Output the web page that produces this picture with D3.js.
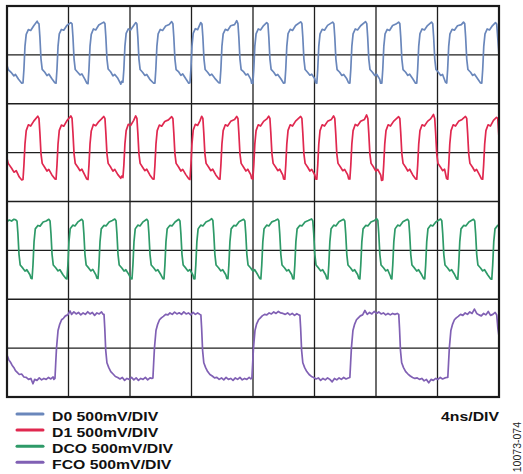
<!DOCTYPE html>
<html>
<head>
<meta charset="utf-8">
<script src="https://cdn.jsdelivr.net/npm/d3@7"></script>
<style>
  html, body { margin: 0; padding: 0; background: #fff; }
  svg { display: block; font-family: "Liberation Sans", Arial, Helvetica, sans-serif; }
</style>
</head>
<body>
<svg id="scope" width="523" height="474"></svg>
<script>
// ---- scope settings / graticule ----
const nsPerDiv = 4;
const mvPerDiv = 500;
const timeDivs = [0, 4, 8, 12, 16, 20, 24, 28, 32];     // ns
const voltDivs = [-4, -3, -2, -1, 0, 1, 2, 3, 4];      // divisions
const channels = ["D0", "D1", "DCO", "FCO"];
const channelOffset = [3, 1, -1, -3];                  // trace zero, in divisions
const figureId = "10073-074";

// ---- traces: [time ns, mV] ----
const d0Trace = [
  [0,-110],[0.08,-150],[0.3,-185],[0.45,-215],[0.55,-200],[0.75,-250],[0.96,-290],
  [1.04,-288],[1.10,-150],[1.17,90],[1.25,210],[1.39,258],[1.54,250],[1.74,298],[1.96,345],[2.00,330],[2.08,318],[2.14,180],[2.21,-40],[2.29,-148],[2.46,-178],[2.60,-212],[2.72,-196],[2.92,-245],[3.11,-285],
  [3.19,-290],[3.25,-150],[3.32,90],[3.40,215],[3.54,260],[3.69,252],[3.89,300],[4.15,330],[4.23,318],[4.29,180],[4.36,-40],[4.44,-150],[4.61,-180],[4.75,-205],[4.87,-195],[5.07,-250],[5.19,-290],
  [5.27,-295],[5.33,-150],[5.40,90],[5.48,210],[5.62,265],[5.77,255],[5.97,305],[6.29,335],[6.37,320],[6.43,180],[6.50,-40],[6.58,-145],[6.75,-175],[6.89,-215],[7.01,-200],[7.21,-240],[7.40,-300],[7.46,-270],
  [7.54,-280],[7.60,-150],[7.67,90],[7.75,220],[7.89,265],[8.04,255],[8.24,300],[8.38,330],[8.45,315],[8.51,180],[8.58,-40],[8.66,-150],[8.83,-180],[8.97,-210],[9.09,-200],[9.29,-250],[9.54,-290],
  [9.62,-290],[9.68,-150],[9.75,90],[9.83,215],[9.97,260],[10.12,250],[10.32,295],[10.55,310],[10.71,340],[10.79,320],[10.85,180],[10.92,-40],[11.00,-150],[11.17,-175],[11.31,-210],[11.43,-195],[11.63,-245],[11.82,-290],
  [11.90,-285],[11.96,-150],[12.03,90],[12.11,220],[12.25,268],[12.40,258],[12.60,330],[12.68,315],[12.74,180],[12.81,-40],[12.89,-150],[13.06,-180],[13.20,-210],[13.32,-198],[13.52,-240],[13.77,-285],
  [13.85,-288],[13.91,-150],[13.98,90],[14.06,215],[14.20,262],[14.35,250],[14.55,298],[14.80,310],[14.94,350],[15.02,320],[15.08,180],[15.15,-40],[15.23,-150],[15.40,-175],[15.54,-205],[15.66,-195],[15.86,-250],[15.91,-290],
  [15.99,-292],[16.05,-150],[16.12,90],[16.20,215],[16.34,265],[16.49,255],[16.69,300],[16.89,330],[16.97,318],[17.03,180],[17.10,-40],[17.18,-148],[17.35,-178],[17.49,-210],[17.61,-200],[17.81,-245],[17.99,-290],
  [18.07,-288],[18.13,-150],[18.20,90],[18.28,218],[18.42,262],[18.57,250],[18.77,300],[19.10,338],[19.18,320],[19.24,180],[19.31,-40],[19.39,-150],[19.56,-180],[19.70,-208],[19.82,-198],[20.02,-245],[20.07,-285],
  [20.15,-290],[20.21,-150],[20.28,90],[20.36,215],[20.50,262],[20.65,252],[20.85,302],[21.18,335],[21.26,318],[21.32,180],[21.39,-40],[21.47,-150],[21.64,-178],[21.78,-210],[21.90,-200],[22.10,-245],[22.22,-288],
  [22.30,-290],[22.36,-150],[22.43,90],[22.51,215],[22.65,265],[22.80,255],[23.00,298],[23.32,340],[23.40,320],[23.46,180],[23.53,-40],[23.61,-150],[23.78,-180],[23.92,-212],[24.04,-198],[24.24,-248],[24.30,-290],
  [24.38,-290],[24.44,-150],[24.51,90],[24.59,215],[24.73,260],[24.88,250],[25.08,300],[25.30,315],[25.47,335],[25.55,320],[25.61,180],[25.68,-40],[25.76,-150],[25.93,-178],[26.07,-210],[26.19,-198],[26.39,-245],[26.57,-290],
  [26.65,-290],[26.71,-150],[26.78,90],[26.86,218],[27.00,265],[27.15,255],[27.35,300],[27.61,335],[27.69,318],[27.75,180],[27.82,-40],[27.90,-150],[28.07,-180],[28.21,-210],[28.33,-200],[28.52,-280],
  [28.60,-288],[28.66,-150],[28.73,90],[28.81,215],[28.95,262],[29.10,252],[29.30,298],[29.55,310],[29.69,335],[29.77,320],[29.83,180],[29.90,-40],[29.98,-150],[30.15,-178],[30.29,-210],[30.41,-198],[30.61,-245],[30.80,-288],
  [30.88,-290],[30.94,-150],[31.01,90],[31.09,215],[31.23,265],[31.38,255],[31.58,300],[31.77,330],[31.85,315],[31.93,150],[32.00,0]
];

const d1Trace = [
  [0,-60],[0.08,-110],[0.3,-160],[0.45,-200],[0.6,-185],[0.8,-250],[0.96,-280],
  [1.04,-275],[1.10,-130],[1.17,90],[1.25,225],[1.39,285],[1.54,272],[1.74,322],[2.00,372],[2.08,350],[2.14,200],[2.21,-10],[2.29,-110],[2.46,-152],[2.60,-188],[2.72,-172],[2.92,-228],[3.11,-268],
  [3.19,-272],[3.25,-130],[3.32,90],[3.40,228],[3.54,282],[3.69,270],[3.89,325],[4.15,375],[4.23,352],[4.29,200],[4.36,-10],[4.44,-112],[4.61,-150],[4.75,-185],[4.87,-170],[5.07,-232],[5.19,-270],
  [5.27,-275],[5.33,-130],[5.40,90],[5.48,222],[5.62,288],[5.77,275],[5.97,318],[6.15,345],[6.29,370],[6.37,350],[6.43,200],[6.50,-10],[6.58,-110],[6.75,-150],[6.89,-190],[7.01,-172],[7.21,-225],[7.40,-262],[7.46,-240],
  [7.54,-255],[7.60,-130],[7.67,90],[7.75,225],[7.89,290],[8.04,278],[8.24,330],[8.37,375],[8.45,350],[8.51,200],[8.58,-10],[8.66,-110],[8.83,-152],[8.97,-185],[9.09,-170],[9.29,-228],[9.48,-270],
  [9.56,-272],[9.62,-130],[9.69,90],[9.77,225],[9.91,282],[10.06,270],[10.26,318],[10.50,335],[10.71,368],[10.79,350],[10.85,200],[10.92,-10],[11.00,-110],[11.17,-150],[11.31,-188],[11.43,-172],[11.63,-225],[11.82,-268],
  [11.90,-275],[11.96,-130],[12.03,90],[12.11,228],[12.25,290],[12.40,278],[12.55,325],[12.66,372],[12.74,350],[12.80,200],[12.87,-10],[12.95,-110],[13.12,-150],[13.26,-185],[13.38,-170],[13.58,-228],[13.77,-268],
  [13.85,-272],[13.91,-130],[13.98,90],[14.06,225],[14.20,285],[14.35,272],[14.55,320],[14.80,338],[14.94,370],[15.02,350],[15.08,200],[15.15,-10],[15.23,-110],[15.40,-152],[15.54,-188],[15.66,-170],[15.86,-228],[15.91,-265],
  [15.99,-270],[16.05,-130],[16.12,90],[16.20,225],[16.34,285],[16.49,272],[16.69,320],[16.90,345],[17.02,372],[17.10,350],[17.16,200],[17.23,-10],[17.31,-110],[17.48,-150],[17.62,-185],[17.74,-170],[17.94,-230],[17.99,-268],
  [18.07,-272],[18.13,-130],[18.20,90],[18.28,228],[18.42,285],[18.57,272],[18.77,322],[19.10,370],[19.18,350],[19.24,200],[19.31,-10],[19.39,-110],[19.56,-150],[19.70,-188],[19.82,-172],[20.02,-228],[20.07,-268],
  [20.15,-272],[20.21,-130],[20.28,90],[20.36,225],[20.50,285],[20.65,272],[20.85,320],[21.10,340],[21.24,375],[21.32,350],[21.38,200],[21.45,-10],[21.53,-110],[21.70,-150],[21.84,-185],[21.96,-172],[22.16,-228],[22.22,-268],
  [22.30,-270],[22.36,-130],[22.43,90],[22.51,225],[22.65,288],[22.80,275],[23.00,320],[23.25,340],[23.39,385],[23.47,350],[23.53,200],[23.60,-10],[23.68,-110],[23.85,-150],[23.99,-190],[24.11,-172],[24.31,-230],[24.36,-285],
  [24.44,-280],[24.50,-130],[24.57,90],[24.65,225],[24.79,285],[24.94,272],[25.14,320],[25.47,368],[25.55,350],[25.61,200],[25.68,-10],[25.76,-110],[25.93,-150],[26.07,-188],[26.19,-170],[26.39,-228],[26.57,-268],
  [26.65,-272],[26.71,-130],[26.78,90],[26.86,225],[27.00,285],[27.15,272],[27.35,320],[27.55,345],[27.74,390],[27.82,350],[27.88,200],[27.95,-10],[28.03,-110],[28.20,-150],[28.34,-185],[28.46,-170],[28.59,-265],
  [28.67,-272],[28.73,-130],[28.80,90],[28.88,225],[29.02,285],[29.17,272],[29.37,320],[29.60,340],[29.82,370],[29.90,350],[29.96,200],[30.03,-10],[30.11,-110],[30.28,-150],[30.42,-188],[30.54,-172],[30.74,-230],[30.86,-268],
  [30.94,-272],[31.00,-130],[31.07,90],[31.15,225],[31.29,285],[31.44,272],[31.64,330],[31.84,360],[31.92,350],[32.00,150]
];

const dcoTrace = [
  [0,295],[0.15,310],[0.3,300],[0.45,318],[0.57,312],
  [0.65,300],[0.71,170],[0.78,-40],[0.86,-150],[1.03,-182],[1.17,-212],[1.29,-198],[1.49,-250],[1.56,-285],
  [1.63,-290],[1.69,-150],[1.76,90],[1.84,220],[2.01,255],[2.15,248],[2.35,290],[2.55,300],[2.72,318],
  [2.80,300],[2.86,170],[2.93,-40],[3.01,-150],[3.18,-180],[3.32,-210],[3.44,-198],[3.64,-250],[3.83,-288],
  [3.90,-292],[3.96,-150],[4.03,90],[4.11,222],[4.28,258],[4.42,250],[4.62,292],[4.86,318],
  [4.94,300],[5.00,170],[5.07,-40],[5.15,-150],[5.32,-182],[5.46,-210],[5.58,-195],[5.78,-250],[5.85,-285],
  [5.92,-288],[5.98,-150],[6.05,90],[6.13,220],[6.30,255],[6.44,250],[6.64,290],[6.85,305],[7.01,320],
  [7.09,302],[7.15,170],[7.22,-40],[7.30,-150],[7.47,-180],[7.61,-212],[7.73,-198],[7.93,-248],[8.06,-290],
  [8.13,-292],[8.19,-150],[8.26,90],[8.34,220],[8.51,258],[8.65,250],[8.85,292],[9.09,318],
  [9.17,300],[9.23,170],[9.30,-40],[9.38,-150],[9.55,-180],[9.69,-210],[9.81,-198],[10.01,-250],[10.14,-290],
  [10.21,-292],[10.27,-150],[10.34,90],[10.42,222],[10.59,255],[10.73,250],[10.93,290],[11.17,318],
  [11.25,300],[11.31,170],[11.38,-40],[11.46,-150],[11.63,-182],[11.77,-212],[11.89,-196],[12.09,-252],[12.15,-290],
  [12.22,-292],[12.28,-150],[12.35,90],[12.43,220],[12.60,258],[12.74,250],[12.94,290],[13.15,305],[13.31,325],
  [13.39,305],[13.45,170],[13.52,-40],[13.60,-150],[13.77,-180],[13.91,-210],[14.03,-198],[14.23,-250],[14.30,-288],
  [14.37,-290],[14.43,-150],[14.50,90],[14.58,220],[14.75,255],[14.89,250],[15.09,292],[15.39,318],
  [15.47,300],[15.53,170],[15.60,-40],[15.68,-150],[15.85,-180],[15.99,-212],[16.11,-198],[16.31,-250],[16.44,-288],
  [16.51,-292],[16.57,-150],[16.64,90],[16.72,222],[16.89,258],[17.03,250],[17.23,292],[17.45,305],[17.60,320],
  [17.68,302],[17.74,170],[17.81,-40],[17.89,-150],[18.06,-180],[18.20,-210],[18.32,-198],[18.52,-250],[18.59,-290],
  [18.66,-292],[18.72,-150],[18.79,90],[18.87,220],[19.04,255],[19.18,250],[19.38,290],[19.60,305],[19.81,322],
  [19.89,302],[19.95,170],[20.02,-40],[20.10,-150],[20.27,-182],[20.41,-210],[20.53,-198],[20.73,-252],[20.80,-290],
  [20.87,-292],[20.93,-150],[21.00,90],[21.08,222],[21.25,258],[21.39,250],[21.59,292],[21.89,318],
  [21.97,300],[22.03,170],[22.10,-40],[22.18,-150],[22.35,-180],[22.49,-212],[22.61,-198],[22.81,-250],[22.88,-288],
  [22.95,-292],[23.01,-150],[23.08,90],[23.16,220],[23.33,255],[23.47,250],[23.67,290],[23.90,305],[24.04,325],
  [24.12,305],[24.18,170],[24.25,-40],[24.33,-150],[24.50,-180],[24.64,-210],[24.76,-198],[24.94,-265],[24.98,-288],
  [25.03,-292],[25.09,-150],[25.16,90],[25.24,220],[25.41,258],[25.55,250],[25.75,292],[26.05,318],
  [26.13,300],[26.19,170],[26.26,-40],[26.34,-150],[26.51,-182],[26.65,-212],[26.77,-198],[26.97,-250],[27.10,-290],
  [27.17,-292],[27.23,-150],[27.30,90],[27.38,222],[27.55,258],[27.69,250],[27.89,290],[28.20,320],
  [28.28,302],[28.34,170],[28.41,-40],[28.49,-150],[28.66,-180],[28.80,-210],[28.92,-198],[29.12,-250],[29.25,-292],
  [29.32,-295],[29.38,-150],[29.45,90],[29.53,220],[29.70,255],[29.84,250],[30.04,290],[30.34,318],
  [30.42,300],[30.48,170],[30.55,-40],[30.63,-150],[30.80,-180],[30.94,-210],[31.06,-198],[31.26,-250],[31.46,-292],
  [31.53,-295],[31.59,-150],[31.66,90],[31.74,220],[31.91,255],[32.00,262]
];

const fcoTrace = [
  [0,-70],[0.12,-120],[0.25,-150],[0.33,-175],[0.45,-200],[0.55,-230],[0.65,-245],[0.8,-270],[0.95,-265],[1.1,-295],[1.25,-300],[1.4,-320],[1.55,-310],[1.69,-365],[1.8,-320],[1.95,-330],[2.1,-305],[2.25,-325],[2.4,-310],[2.55,-320],[2.7,-300],[2.85,-315],[3.0,-295],[3.05,-320],
  [3.12,-310],[3.17,-150],[3.22,0],[3.32,180],[3.42,240],[3.55,290],[3.67,305],[3.80,330],[3.95,340],[4.1,380],[4.2,345],[4.35,370],[4.5,350],[4.65,365],[4.8,340],[4.95,360],[5.1,345],[5.25,372],[5.4,350],[5.55,365],[5.7,335],[5.85,360],[6.0,350],[6.15,370],[6.25,345],
  [6.31,345],[6.36,200],[6.42,-20],[6.50,-150],[6.62,-200],[6.75,-240],[6.9,-265],[7.05,-290],[7.2,-300],[7.35,-315],[7.5,-300],[7.65,-330],[7.8,-310],[7.95,-320],[8.1,-300],[8.25,-325],[8.4,-305],[8.55,-330],[8.7,-310],[8.85,-320],[9.0,-300],[9.15,-325],[9.3,-305],[9.42,-310],
  [9.49,-305],[9.54,-150],[9.59,0],[9.69,180],[9.79,240],[9.92,290],[10.04,310],[10.17,325],[10.32,345],[10.47,340],[10.6,360],[10.75,345],[10.9,368],[11.05,350],[11.2,362],[11.35,345],[11.5,370],[11.65,350],[11.8,360],[11.95,340],[12.1,365],[12.25,345],[12.4,360],[12.55,345],
  [12.61,340],[12.66,200],[12.72,-20],[12.80,-150],[12.92,-200],[13.05,-240],[13.2,-270],[13.35,-285],[13.5,-305],[13.65,-300],[13.8,-320],[13.95,-305],[14.1,-325],[14.25,-300],[14.4,-320],[14.55,-310],[14.7,-330],[14.85,-305],[15.0,-320],[15.15,-300],[15.3,-325],[15.45,-310],[15.6,-320],[15.75,-300],[15.86,-315],
  [15.93,-305],[15.98,-150],[16.03,0],[16.13,180],[16.23,245],[16.36,290],[16.48,310],[16.6,330],[16.75,345],[16.9,340],[17.05,360],[17.2,350],[17.35,370],[17.5,355],[17.65,375],[17.8,360],[17.95,355],[18.1,345],[18.25,360],[18.4,340],[18.55,355],[18.7,335],[18.85,352],[18.98,340],
  [19.05,335],[19.10,200],[19.16,-20],[19.24,-150],[19.36,-200],[19.5,-240],[19.65,-270],[19.8,-290],[19.95,-300],[20.1,-315],[20.25,-305],[20.4,-330],[20.55,-310],[20.7,-325],[20.85,-305],[21.0,-320],[21.15,-345],[21.3,-310],[21.45,-325],[21.6,-305],[21.75,-320],[21.9,-300],[22.05,-315],[22.2,-305],
  [22.30,-300],[22.35,-150],[22.40,0],[22.50,180],[22.60,240],[22.73,290],[22.85,310],[22.98,330],[23.13,340],[23.28,385],[23.43,345],[23.58,365],[23.73,350],[23.88,375],[24.03,355],[24.18,370],[24.33,350],[24.48,360],[24.63,340],[24.78,355],[24.93,340],[25.08,355],[25.23,345],[25.38,355],
  [25.48,345],[25.53,200],[25.59,-20],[25.67,-150],[25.79,-200],[25.93,-240],[26.08,-265],[26.23,-285],[26.38,-300],[26.53,-310],[26.68,-305],[26.83,-320],[26.98,-310],[27.13,-335],[27.28,-320],[27.43,-355],[27.58,-320],[27.73,-330],[27.88,-310],[28.03,-320],[28.18,-300],[28.33,-315],[28.48,-305],[28.6,-300],
  [28.67,-300],[28.72,-150],[28.77,0],[28.87,180],[28.97,240],[29.10,290],[29.22,310],[29.35,325],[29.5,345],[29.65,335],[29.8,360],[29.95,345],[30.1,370],[30.25,355],[30.4,400],[30.55,355],[30.7,340],[30.85,330],[31.0,355],[31.15,340],[31.3,375],[31.45,335],[31.6,345],[31.75,365],[31.85,340],[31.93,200],[32.0,120]
];

const traces = [d0Trace, d1Trace, dcoTrace, fcoTrace];

// ---- drawing ----
const colors = ["#6a87bb", "#e0284f", "#2e9a68", "#8060b4"];
const plot = { left: 7, right: 499, top: 6, bottom: 397 };

const svg = d3.select("#scope");

const x = d3.scaleLinear().domain([d3.min(timeDivs), d3.max(timeDivs)]).range([plot.left, plot.right]);
const y = d3.scaleLinear().domain([d3.min(voltDivs), d3.max(voltDivs)]).range([plot.bottom, plot.top]);

svg.append("rect").attr("width", 523).attr("height", 474).attr("fill", "#fff");

svg.append("defs").append("clipPath").attr("id", "clip")
  .append("rect").attr("x", plot.left).attr("y", plot.top)
  .attr("width", plot.right - plot.left).attr("height", plot.bottom - plot.top);

// graticule
const grid = svg.append("g").attr("stroke", "#1e1e1e").attr("stroke-width", 1.3);
grid.selectAll("line.v").data(timeDivs.slice(1, -1)).join("line").attr("class", "v")
  .attr("x1", (d) => x(d)).attr("x2", (d) => x(d)).attr("y1", plot.top).attr("y2", plot.bottom);
grid.selectAll("line.h").data(voltDivs.slice(1, -1)).join("line").attr("class", "h")
  .attr("y1", (d) => y(d)).attr("y2", (d) => y(d)).attr("x1", plot.left).attr("x2", plot.right);

// traces
const traceG = svg.append("g").attr("clip-path", "url(#clip)");
traces.forEach((pts, i) => {
  const line = d3.line()
    .x((d) => x(d[0]))
    .y((d) => y(channelOffset[i] + d[1] / mvPerDiv));
  traceG.append("path").attr("d", line(pts)).attr("fill", "none")
    .attr("stroke", colors[i]).attr("stroke-width", 1.7).attr("stroke-linejoin", "round");
});

// frame
svg.append("rect").attr("x", plot.left).attr("y", plot.top)
  .attr("width", plot.right - plot.left).attr("height", plot.bottom - plot.top)
  .attr("fill", "none").attr("stroke", "#1a1a1a").attr("stroke-width", 2.2);

// legend
const leg = svg.append("g");
channels.forEach((c, i) => {
  const base = 421 + i * 16.1;
  leg.append("line").attr("x1", 17).attr("x2", 43).attr("y1", base - 7).attr("y2", base - 7)
    .attr("stroke", colors[i]).attr("stroke-width", 3).attr("stroke-linecap", "round");
  leg.append("text").attr("transform", `translate(52,${base}) scale(1.17,1)`)
    .attr("font-size", 13.5).attr("font-weight", "bold").attr("fill", "#111")
    .text(`${c} ${mvPerDiv}mV/DIV`);
});

svg.append("text").attr("transform", "translate(499,421) scale(1.17,1)")
  .attr("text-anchor", "end").attr("font-size", 13.5).attr("font-weight", "bold").attr("fill", "#111")
  .text(`${nsPerDiv}ns/DIV`);

svg.append("text").attr("transform", "translate(521,422) rotate(-90)")
  .attr("text-anchor", "end").attr("font-size", 10.5).attr("fill", "#222")
  .text(figureId);
</script>
</body>
</html>
